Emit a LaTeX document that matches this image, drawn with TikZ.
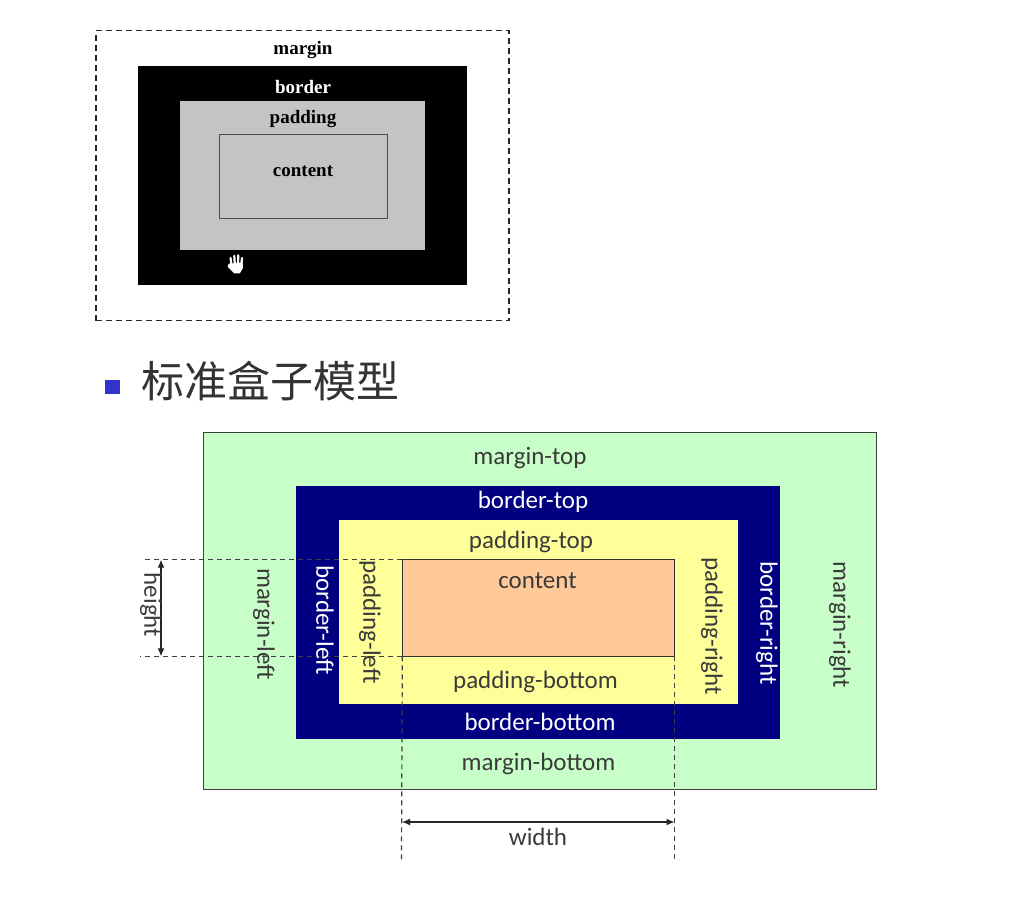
\documentclass[tikz,border=0pt]{standalone}
\usepackage{fontspec}
\setmainfont{Liberation Serif}
\newfontfamily\lblfont{Carlito}
\newfontfamily\cjkfont{Noto Sans CJK SC}
\usetikzlibrary{arrows.meta}
\definecolor{mgreen}{HTML}{C8FFC8}
\definecolor{bnavy}{HTML}{000080}
\definecolor{pyellow}{HTML}{FFFF99}
\definecolor{corange}{HTML}{FFC999}
\definecolor{graybox}{HTML}{C4C4C4}
\definecolor{lbl}{HTML}{3A3A3A}
\definecolor{bulletblue}{HTML}{3333CC}
\tikzset{
  x=1pt,y=-1pt,
  boxr/.style={rectangle,inner sep=0pt,outer sep=0pt,anchor=north west},
  toplbl/.style={font=\fontsize{19}{21}\selectfont\bfseries,inner sep=0pt},
  sanslbl/.style={font=\lblfont\fontsize{25}{28}\selectfont,text=lbl,inner sep=0pt},
  whitelbl/.style={sanslbl,text=white},
  guide/.style={line width=1.2pt,color=black!75,dash pattern=on 5pt off 4pt},
  dim/.style={line width=1.2pt,color=black!85,{Latex[length=8pt,width=7pt]}-{Latex[length=8pt,width=7pt]}}
}
\begin{document}
\begin{tikzpicture}
\useasboundingbox (0,0) rectangle (1010,900);
% top diagram
\node[boxr,draw=black!85,line width=1.6pt,dash pattern=on 6pt off 4pt,minimum width=413pt,minimum height=290pt] (tmargin) at (96,30.5) {};
\node[boxr,fill=black,minimum width=329pt,minimum height=219pt] (tborder) at (138,66) {};
\node[boxr,fill=graybox,minimum width=245.5pt,minimum height=148.7pt] (tpadding) at (179.5,101) {};
\node[boxr,draw=black!70,line width=1pt,minimum width=168pt,minimum height=84pt] (tcontent) at (219,134) {};
\node[toplbl] (lmargin) at (303,50) {margin};
\node[toplbl,text=white] (lborder) at (303,86.5) {border};
\node[toplbl] (lpadding) at (303,119) {padding};
\node[toplbl] (lcontent) at (303,171.5) {content};
% hand cursor
\begin{scope}[shift={(236.5,263.5)},scale=1.1]
  \fill[white] (-5,0) -- (5.5,-1) -- (6,4) -- (3,9) -- (-2,9) -- (-8,3) -- (-7,0) -- cycle;
  \draw[white,line width=2.2pt,line cap=round] (-4.6,1) -- (-5.4,-5) (-1.6,0) -- (-2,-7) (1.4,0) -- (1.6,-7.5) (4.4,1) -- (5,-5);
\end{scope}
% title
\node[boxr,fill=bulletblue,minimum width=15pt,minimum height=14pt] (bullet) at (105,380) {};
\node[font=\cjkfont\fontsize{43}{47}\selectfont,text=black!80,inner sep=0pt,anchor=west] (title) at (141,381) {标准盒子模型};
% bottom diagram
\node[boxr,fill=mgreen,draw=black!75,line width=1pt,minimum width=673pt,minimum height=356.5pt] (margin) at (203,432.7) {};
\node[boxr,fill=bnavy,minimum width=484.3pt,minimum height=253.3pt] (border) at (295.7,486) {};
\node[boxr,fill=pyellow,minimum width=398.7pt,minimum height=184.3pt] (padding) at (339.3,520) {};
\node[boxr,fill=corange,draw=black!80,line width=1pt,minimum width=272.4pt,minimum height=96.6pt] (content) at (402.3,559.7) {};
% guides
\coordinate (g1) at (145,559.7);
\coordinate (g2) at (140,656.3);
\coordinate (g3) at (401.5,860);
\coordinate (g4) at (674.7,860);
\coordinate (h1) at (161,559.7);
\coordinate (h2) at (161,656.3);
\coordinate (w1) at (402,822);
\coordinate (w2) at (674.5,822);
\draw[guide] (content.north west) -- (g1);
\draw[guide] (content.south west) -- (g2);
\draw[guide] (content.south west) -- (g3);
\draw[guide] (content.south east) -- (g4);
\draw[dim] (h1) -- (h2);
\draw[dim] (w1) -- (w2);
% labels
\node[sanslbl] (mt) at (530,458) {margin-top};
\node[whitelbl] (bt) at (533,502) {border-top};
\node[sanslbl] (pt) at (531,541.5) {padding-top};
\node[sanslbl] (ct) at (537.5,581) {content};
\node[sanslbl] (pb) at (535.5,682) {padding-bottom};
\node[whitelbl] (bb) at (540,722) {border-bottom};
\node[sanslbl] (mb) at (538.5,764) {margin-bottom};
\node[sanslbl] (wd) at (538,837) {width};
\node[sanslbl,rotate=-90] (ht) at (151,605) {height};
\node[sanslbl,rotate=-90] (ml) at (264,624) {margin-left};
\node[whitelbl,rotate=-90] (bl) at (325,620) {border-left};
\node[sanslbl,rotate=-90] (pl) at (370,622) {padding-left};
\node[sanslbl,rotate=-90] (pr) at (712,626) {padding-right};
\node[whitelbl,rotate=-90] (br) at (767,623) {border-right};
\node[sanslbl,rotate=-90] (mr) at (840,625) {margin-right};
\end{tikzpicture}
\end{document}
